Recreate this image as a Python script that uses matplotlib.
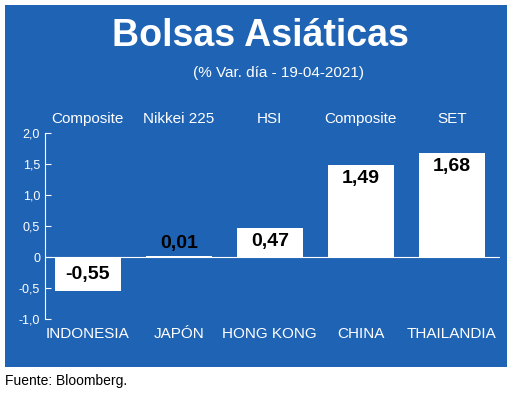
import matplotlib
matplotlib.use("Agg")
import matplotlib.pyplot as plt

countries = ["INDONESIA", "JAPÓN", "HONG KONG", "CHINA", "THAILANDIA"]
indices = ["Composite", "Nikkei 225", "HSI", "Composite", "SET"]
values = [-0.55, 0.01, 0.47, 1.49, 1.68]
labels = ["-0,55", "0,01", "0,47", "1,49", "1,68"]
yticks = [-1.0, -0.5, 0, 0.5, 1.0, 1.5, 2.0]
ytick_labels = ["-1,0", "-0,5", "0", "0,5", "1,0", "1,5", "2,0"]

BLUE = "#1f63b4"
plt.rcParams["font.family"] = ["Liberation Sans Narrow", "Liberation Sans", "DejaVu Sans"]

fig = plt.figure(figsize=(5.2, 4.04), dpi=100)
bg = fig.add_axes([5 / 520, 1 - 367 / 404, 502 / 520, 362 / 404], zorder=-1)
bg.set_facecolor(BLUE)
bg.set_xticks([])
bg.set_yticks([])
for s in bg.spines.values():
    s.set_visible(False)

fig.text(0.5, 1 - 36 / 404, "Bolsas Asiáticas", color="white", fontsize=27,
         fontweight="bold", ha="center", va="center")
fig.text(0.535, 1 - 73 / 404, "(% Var. día - 19-04-2021)", color="white",
         fontsize=11, ha="center", va="center")
fig.text(5 / 520, 1 - 381 / 404, "Fuente: Bloomberg.", fontsize=10,
         ha="left", va="center")

ax = fig.add_axes([45 / 520, 1 - 319 / 404, 455 / 520, 186 / 404], zorder=1)
ax.set_facecolor("none")
x = range(len(values))
ax.bar(x, values, width=0.73, color="white", zorder=2)
ax.axhline(0, color="white", lw=0.8, zorder=1)
for i, (v, lab) in enumerate(zip(values, labels)):
    if v < 0:
        y = v / 2
    elif v < 0.3:
        y = v + 0.2
    else:
        y = v - 0.22
    ax.text(i, y, lab, ha="center", va="center", fontsize=14, fontweight="bold",
            color="black", zorder=3)
    ax.text(i, 2.22, indices[i], ha="center", va="center", fontsize=11,
            color="white", clip_on=False)
    ax.text(i, -1.25, countries[i], ha="center", va="center", fontsize=11,
            color="white", clip_on=False)
ax.set_xlim(-0.47, 4.53)
ax.set_ylim(-1.0, 2.0)
ax.set_yticks(yticks)
ax.set_yticklabels(ytick_labels, color="white", fontsize=9)
ax.set_xticks([])
ax.tick_params(axis="y", colors="white", length=4, direction="in")
for s in ["top", "right", "bottom"]:
    ax.spines[s].set_visible(False)
ax.spines["left"].set_color("white")
ax.spines["left"].set_linewidth(0.8)

fig.savefig("out.png", dpi=100)
